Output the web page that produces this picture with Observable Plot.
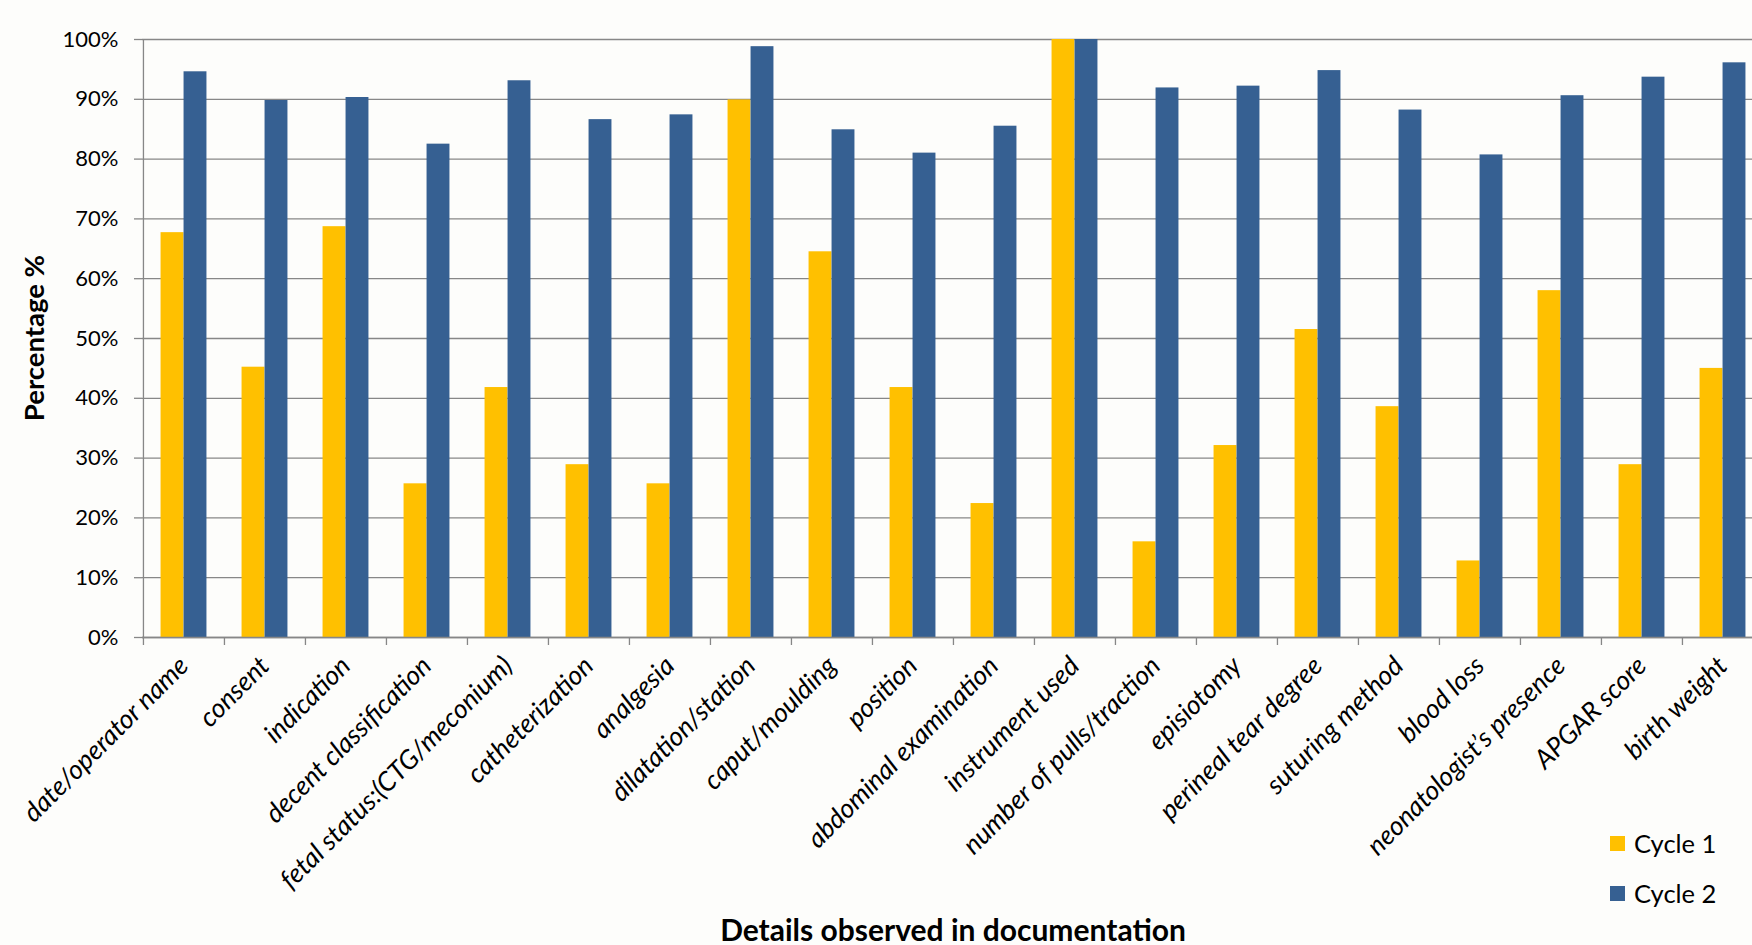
<!DOCTYPE html>
<html>
<head>
<meta charset="utf-8">
<script src="https://cdn.jsdelivr.net/npm/d3@7"></script>
<script src="https://cdn.jsdelivr.net/npm/@observablehq/plot@0.6"></script>
<style>
  html, body { margin: 0; padding: 0; background: #fdfdfb; overflow: hidden; width: 1752px; height: 945px; }
  #wrap { position: relative; width: 1752px; height: 945px; font-family: Lato, "Open Sans", sans-serif; }
  #xtitle { position: absolute; left: 953px; top: 929px; transform: translate(-50%, -50%); font-weight: bold; font-size: 30px; line-height: 1; color: #000; white-space: nowrap; }
  #ytitle { position: absolute; left: 34px; top: 338px; transform: translate(-50%, -50%) rotate(-90deg); font-weight: bold; font-size: 27.5px; line-height: 1; color: #000; white-space: nowrap; }
  .leg { position: absolute; left: 1610px; display: flex; align-items: center; font-size: 25.5px; color: #000; }
  .leg span.sw { display: inline-block; width: 15px; height: 15px; margin-right: 9px; }
</style>
</head>
<body>
<div id="wrap">
  <div id="chart"></div>
  <div id="ytitle">Percentage %</div>
  <div id="xtitle">Details observed in documentation</div>
  <div id="legend"></div>
</div>
<script>
const categories = [
  "date/operator name", "consent", "indication", "decent classification",
  "fetal status:(CTG/meconium)", "catheterization", "analgesia", "dilatation/station",
  "caput/moulding", "position", "abdominal examination", "instrument used",
  "number of pulls/traction", "episiotomy", "perineal tear degree", "suturing method",
  "blood loss", "neonatologist\u2019s presence", "APGAR score", "birth weight"
];
const cycle1 = [67.7, 45.2, 68.7, 25.7, 41.8, 28.9, 25.7, 89.9, 64.5, 41.8,
                22.4, 100, 16.0, 32.1, 51.5, 38.6, 12.8, 58.0, 28.9, 45.0];
const cycle2 = [94.6, 89.8, 90.3, 82.5, 93.1, 86.6, 87.4, 98.8, 84.9, 81.0,
                85.5, 100, 91.9, 92.2, 94.8, 88.2, 80.7, 90.6, 93.7, 96.1];
const seriesNames = ["Cycle 1", "Cycle 2"];
const seriesColors = ["#FFC000", "#366092"];
const yTicks = [0, 0.1, 0.2, 0.3, 0.4, 0.5, 0.6, 0.7, 0.8, 0.9, 1.0];

const rows1 = categories.map((c, i) => ({category: c, series: seriesNames[0], value: cycle1[i] / 100}));
const rows2 = categories.map((c, i) => ({category: c, series: seriesNames[1], value: cycle2[i] / 100}));

const W = 1764, H = 945, ML = 142, MR = 0, MT = 39, MB = 308;
const bw = (W - ML - MR) / categories.length;
const barW = 23;
const gap = (bw - 2 * barW) / 2;
const gridColor = "#878787";

const chart = Plot.plot({
  width: W,
  height: H,
  marginLeft: ML,
  marginRight: MR,
  marginTop: MT,
  marginBottom: MB,
  style: {background: "#fdfdfb", fontFamily: "Lato, 'Open Sans', sans-serif", fontSize: "22px", color: "#000", maxWidth: "none", overflow: "visible"},
  x: {type: "band", domain: categories, padding: 0},
  y: {domain: [0, 1]},
  marks: [
    Plot.gridY(yTicks, {stroke: gridColor, strokeOpacity: 1, strokeWidth: 1.3}),
    Plot.barY(rows1, {x: "category", y: "value", fill: seriesColors[0], insetLeft: gap, insetRight: gap + barW}),
    Plot.barY(rows2, {x: "category", y: "value", fill: seriesColors[1], insetLeft: gap + barW, insetRight: gap}),
    Plot.ruleX([categories[0]], {dx: -bw / 2, stroke: gridColor, strokeWidth: 1.3}),
    Plot.ruleY([0], {stroke: gridColor, strokeWidth: 1.6}),
    Plot.axisY(yTicks, {tickFormat: d3.format(".0%"), tickSize: 8, tickPadding: 16, stroke: gridColor, strokeWidth: 1.3, label: null, fontSize: 22}),
    Plot.axisX({tickSize: 8, dx: -bw / 2, tickFormat: () => "", stroke: gridColor, strokeWidth: 1.3, label: null}),
    Plot.axisX({tickSize: 0, tickPadding: 24, tickRotate: -45, fontStyle: "italic", fontSize: 26.5, label: null})
  ]
});
document.getElementById("chart").appendChild(chart);

const legend = document.getElementById("legend");
const legTops = [843, 893];
seriesNames.forEach((name, i) => {
  const d = document.createElement("div");
  d.className = "leg";
  d.style.top = (legTops[i] - 15) + "px";
  d.style.height = "30px";
  d.innerHTML = `<span class="sw" style="background:${seriesColors[i]}"></span>${name}`;
  legend.appendChild(d);
});
</script>
</body>
</html>
